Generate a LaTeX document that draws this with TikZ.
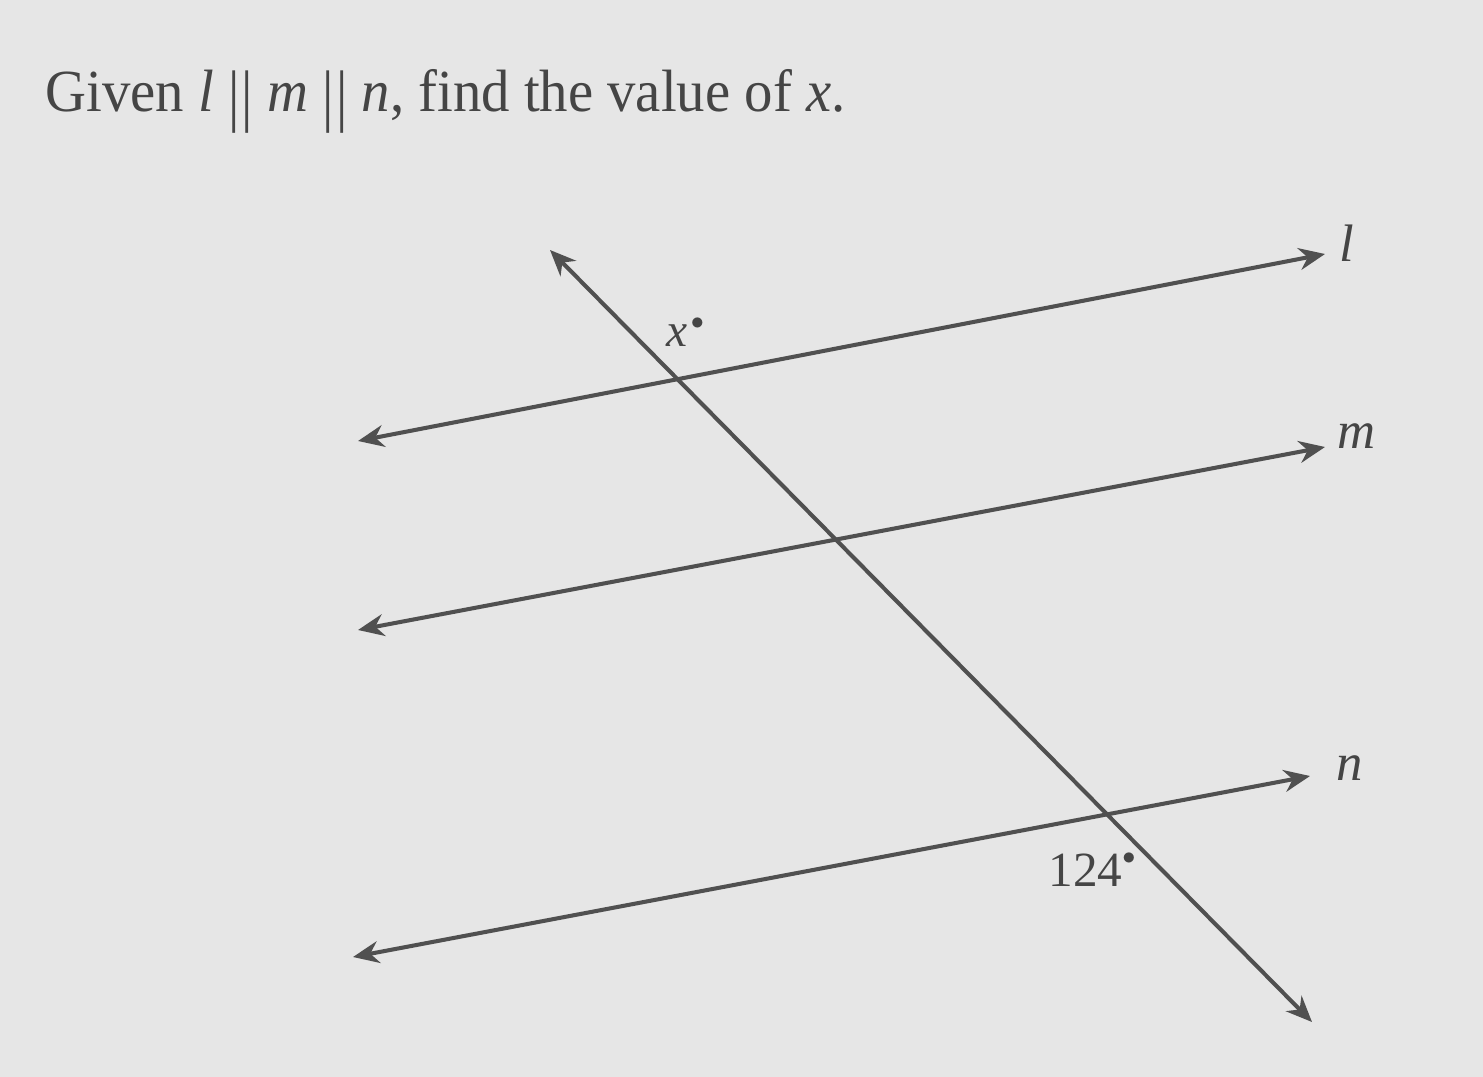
\documentclass[tikz,border=0pt]{standalone}
\usepackage{fontspec}
\setmainfont{Liberation Serif}
\usetikzlibrary{arrows.meta}
\definecolor{bg}{HTML}{E6E6E6}
\definecolor{ink}{HTML}{505050}
\definecolor{txt}{HTML}{454545}
\newcommand{\parbars}{\raisebox{-0.12em}{\scalebox{1}[1.15]{\textbar\kern0.04em\textbar}}}
\newcommand{\degdot}[1]{\raisebox{#1}{\scalebox{0.6}{$\bullet$}}}
\tikzset{
  ray/.style={draw=ink, line width=2.3pt, {Stealth[length=0.52cm,width=0.44cm]}-{Stealth[length=0.52cm,width=0.44cm]}},
  lbl/.style={text=txt, inner sep=0pt},
}
\begin{document}
\begin{tikzpicture}[x=0.02cm,y=-0.02cm]
\fill[bg] (0,0) rectangle (1483,1077);
\useasboundingbox (0,0) rectangle (1483,1077);
% title
\node[lbl, anchor=west, font=\fontsize{34}{40}\selectfont, xscale=0.95] (title) at (45,101)
  {Given \textit{l} \parbars{} \textit{m} \parbars{} \textit{n}, find the value of \textit{x}.};
% arrow ends
\coordinate (lA) at (358,441);
\coordinate (lB) at (1325,254);
\coordinate (mA) at (358,630);
\coordinate (mB) at (1325,447);
\coordinate (nA) at (353,957);
\coordinate (nB) at (1310,776);
\coordinate (tA) at (550,250);
\coordinate (tB) at (1312,1022);
\draw[ray] (lA) -- (lB);
\draw[ray] (mA) -- (mB);
\draw[ray] (nA) -- (nB);
\draw[ray] (tA) -- (tB);
% labels
\node[lbl, font=\fontsize{30}{34}\selectfont] (ll) at (1347,243) {\textit{l}};
\node[lbl, font=\fontsize{30}{34}\selectfont] (ml) at (1357,436) {\textit{m}};
\node[lbl, font=\fontsize{30}{34}\selectfont] (nl) at (1350,768) {\textit{n}};
\node[lbl, font=\fontsize{27}{30}\selectfont] (xl) at (685,332) {\textit{x}\kern0.08em\degdot{0.35em}};
\node[lbl, font=\fontsize{28}{32}\selectfont] (al) at (1092,870) {124\degdot{0.45em}};
\end{tikzpicture}
\end{document}
